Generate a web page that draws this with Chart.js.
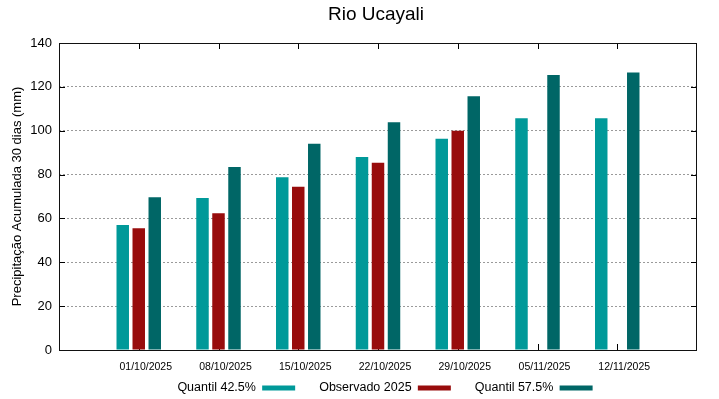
<!DOCTYPE html>
<html>
<head>
<meta charset="utf-8">
<script src="https://cdn.jsdelivr.net/npm/chart.js@4/dist/chart.umd.min.js"></script>
<style>
html,body{margin:0;padding:0;background:#fff;}
canvas{display:block;}
</style>
</head>
<body>
<canvas id="c" width="719" height="399"></canvas>
<script>
const categories = ['01/10/2025','08/10/2025','15/10/2025','22/10/2025','29/10/2025','05/11/2025','12/11/2025'];
const quantil425 = [57.0, 69.3, 78.8, 88.0, 96.3, 105.7, 105.7];
const observado2025 = [55.5, 62.4, 74.4, 85.4, 100.0, null, null];
const quantil575 = [69.7, 83.5, 94.0, 103.9, 115.7, 125.4, 126.5];
const seriesNames = ['Quantil 42.5%', 'Observado 2025', 'Quantil 57.5%'];
const yMin = 0, yMax = 140, yStep = 20;
const chartTitle = 'Rio Ucayali';
const yTitle = 'Precipitação Acumulada 30 dias (mm)';

const FONT = "'Liberation Sans', Arial, sans-serif";
Chart.defaults.font.family = FONT;
Chart.defaults.color = '#000';

const toPoints = arr => arr.map((v, i) => ({ x: i, y: v }));

const framePlugin = {
  id: 'frame',
  afterLayout(chart) {
    const t = chart.titleBlock;
    if (t) { t.left += 27.5; t.right += 27.5; }
    const l = chart.legend;
    if (l) { l.left += 36.5; l.right += 36.5; l.top -= 18.25; l.bottom -= 18.25; }
  },
  beforeDatasetsDraw(chart) {
    const { ctx, chartArea: a, scales: { x, y } } = chart;
    const L = 6;
    ctx.save();
    ctx.strokeStyle = '#000';
    ctx.lineWidth = 1;
    ctx.beginPath();
    y.ticks.forEach(t => {
      const py = Math.round(y.getPixelForValue(t.value)) + 0.5;
      ctx.moveTo(a.left, py); ctx.lineTo(a.left + L, py);
      ctx.moveTo(a.right, py); ctx.lineTo(a.right - L, py);
    });
    categories.forEach((c, i) => {
      const px = Math.round(x.getPixelForValue(i)) + 0.5;
      ctx.moveTo(px, a.bottom); ctx.lineTo(px, a.bottom - L);
      ctx.moveTo(px, a.top); ctx.lineTo(px, a.top + L);
    });
    ctx.stroke();
    ctx.restore();
  },
  afterDatasetsDraw(chart) {
    const { ctx, chartArea: a } = chart;
    ctx.save();
    ctx.strokeStyle = '#111';
    ctx.lineWidth = 1;
    const l = Math.round(a.left) + 0.5, t = Math.round(a.top) + 0.5;
    const r = Math.round(a.right) - 0.5, b = Math.round(a.bottom) + 0.5;
    ctx.strokeRect(l, t, r - l, b - t);
    ctx.restore();
  }
};

new Chart(document.getElementById('c'), {
  type: 'bar',
  data: {
    datasets: [
      { label: seriesNames[0], data: toPoints(quantil425), backgroundColor: '#009999', borderWidth: 0 },
      { label: seriesNames[1], data: toPoints(observado2025), backgroundColor: '#980c0c', borderWidth: 0 },
      { label: seriesNames[2], data: toPoints(quantil575), backgroundColor: '#006666', borderWidth: 0 }
    ]
  },
  options: {
    responsive: false,
    animation: false,
    devicePixelRatio: 1,
    categoryPercentage: 0.602,
    barPercentage: 0.78,
    layout: { padding: { left: 0, right: 22, top: 0, bottom: -23.5 } },
    plugins: {
      tooltip: { enabled: false },
      title: {
        display: true,
        text: chartTitle,
        color: '#000',
        font: { size: 19, weight: 'normal', family: FONT, lineHeight: 1.2 },
        padding: { top: 3, bottom: 17.2 }
      },
      legend: {
        display: true,
        position: 'bottom',
        rtl: true,
        textDirection: 'ltr',
        reverse: true,
        labels: {
          boxWidth: 33,
          boxHeight: 5,
          padding: 24,
          color: '#000',
          font: { size: 12.5, family: FONT }
        }
      }
    },
    scales: {
      x: {
        type: 'linear',
        min: -1,
        max: 7,
        offset: false,
        grid: { display: false, drawTicks: false, offset: false },
        border: { display: false },
        ticks: {
          stepSize: 1,
          autoSkip: false,
          maxRotation: 0,
          minRotation: 0,
          padding: 10.4,
          labelOffset: 7,
          color: '#000',
          font: { size: 10.5, family: FONT },
          callback: v => (Number.isInteger(v) && v >= 0 && v < categories.length) ? categories[v] : ''
        },
        afterFit: s => { s.height = 26; }
      },
      y: {
        min: yMin,
        max: yMax,
        grid: { display: true, color: '#9a9a9a', lineWidth: 1, drawTicks: false },
        border: { display: false, dash: [2, 2] },
        ticks: {
          stepSize: yStep,
          padding: 7,
          color: '#000',
          font: { size: 13, family: FONT }
        },
        title: {
          display: true,
          text: yTitle,
          color: '#000',
          font: { size: 13, family: FONT, lineHeight: 1.2 },
          padding: { top: 9.2, bottom: 0 }
        },
        afterFit: s => { s.width = 59; }
      }
    }
  },
  plugins: [framePlugin]
});
</script>
</body>
</html>
